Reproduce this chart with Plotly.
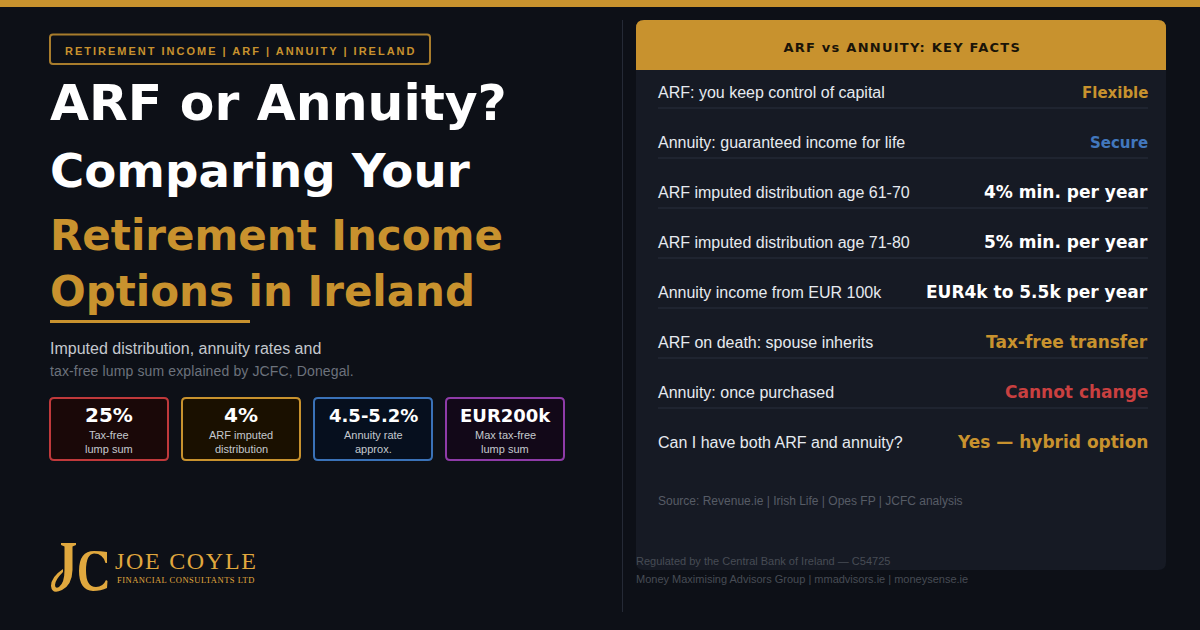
import json
import plotly.graph_objects as go

GOLD = "#c8922e"
SANS = "Liberation Sans"
BOLD = "DejaVu Sans"

tag_text = "RETIREMENT INCOME | ARF | ANNUITY | IRELAND"
headline_white = ["ARF or Annuity?", "Comparing Your"]
headline_gold = ["Retirement Income", "Options in Ireland"]
sub_lines = ["Imputed distribution, annuity rates and", "tax-free lump sum explained by JCFC, Donegal."]

stat_values = ["25%", "4%", "4.5-5.2%", "EUR200k"]
stat_labels = [["Tax-free", "lump sum"], ["ARF imputed", "distribution"], ["Annuity rate", "approx."], ["Max tax-free", "lump sum"]]
stat_edges = ["#c0393b", "#c8922e", "#3a72b8", "#8e3ba8"]
stat_fills = ["#1a0808", "#1a1000", "#060f1e", "#120818"]
stat_sizes = [20, 20, 18, 18]

panel_title = "ARF vs ANNUITY: KEY FACTS"
row_labels = ["ARF: you keep control of capital", "Annuity: guaranteed income for life",
              "ARF imputed distribution age 61-70", "ARF imputed distribution age 71-80",
              "Annuity income from EUR 100k", "ARF on death: spouse inherits",
              "Annuity: once purchased", "Can I have both ARF and annuity?"]
row_values = ["Flexible", "Secure", "4% min. per year", "5% min. per year",
              "EUR4k to 5.5k per year", "Tax-free transfer", "Cannot change", "Yes \u2014 hybrid option"]
row_colors = [GOLD, "#4277bd", "#ffffff", "#ffffff", "#ffffff", GOLD, "#c94040", GOLD]
row_sizes = [15, 15, 17, 17, 17, 17, 17, 17]

source_text = "Source: Revenue.ie | Irish Life | Opes FP | JCFC analysis"
footer_lines = ["Regulated by the Central Bank of Ireland \u2014 C54725",
                "Money Maximising Advisors Group | mmadvisors.ie | moneysense.ie"]


def rrect(x0, y0, x1, y1, r, r_bottom=None):
    b = r if r_bottom is None else r_bottom
    return (f"M{x0+r},{y0} L{x1-r},{y0} Q{x1},{y0} {x1},{y0+r} L{x1},{y1-b} Q{x1},{y1} {x1-b},{y1} "
            f"L{x0+b},{y1} Q{x0},{y1} {x0},{y1-b} L{x0},{y0+r} Q{x0},{y0} {x0+r},{y0} Z")


shapes = []
annos = []


def box(path, fill, line=None, width=0):
    shapes.append(dict(type="path", path=path, fillcolor=fill, line=dict(color=line or fill, width=width),
                       xref="x", yref="y", layer="below"))


def rect(x0, y0, x1, y1, fill):
    shapes.append(dict(type="rect", x0=x0, y0=y0, x1=x1, y1=y1, fillcolor=fill, line_width=0,
                       xref="x", yref="y", layer="below"))


def label(x, y, text, size, color, family=SANS, bold=False, anchor="left"):
    # annotations sit about 1px inside their box
    x = x + {"left": -1, "center": 0, "right": 1}[anchor]
    annos.append(dict(x=x, y=y, xref="x", yref="y", text=f"<b>{text}</b>" if bold else text,
                      showarrow=False, xanchor=anchor, yanchor="middle", align=anchor, borderpad=0,
                      font=dict(size=size, color=color, family=family)))


rect(0, 0, 1200, 7, GOLD)
rect(622, 20, 623, 612, "#252a36")

# left column
box(rrect(50, 34.5, 430, 64, 3), "rgba(0,0,0,0)", "#a87c2c", 2)
label(65, 51, tag_text, 11, GOLD, bold=True)

label(50, 102.5, headline_white[0], 50.4, "#ffffff", BOLD, True)
label(50, 170.5, headline_white[1], 46.7, "#ffffff", BOLD, True)
label(50, 235, headline_gold[0], 42, GOLD, BOLD, True)
label(50, 291, headline_gold[1], 42, GOLD, BOLD, True)
rect(50, 320, 250, 323, GOLD)

label(50, 348.5, sub_lines[0], 16, "#c4c8ce")
label(50, 371, sub_lines[1], 14, "#6c727c")

for i, val in enumerate(stat_values):
    x0 = 50 + 132 * i
    box(rrect(x0, 398, x0 + 118, 460, 4), stat_fills[i], stat_edges[i], 2)
    label(x0 + 59, 415, val, stat_sizes[i], "#ffffff", BOLD, True, "center")
    label(x0 + 59, 435, stat_labels[i][0], 11, "#c4c8ce", anchor="center")
    label(x0 + 59, 449, stat_labels[i][1], 11, "#c4c8ce", anchor="center")

# logo: the JC monogram is a drawn mark, the rest is text
LOGO = "#e0a83e"
box("M61,543 L76,543 L76,545 L72.5,546.5 L72.5,570 Q72,585 62,590 Q52,595 51,586 Q51,577 63,569 "
    "L63,572 Q55,580 55,585 Q55,589 59,587 Q64.5,583 64.5,570 L64.5,546.5 L61,545 Z", LOGO)
box("M107,552 L107,563 L105.5,563 Q103,553.5 94,553.5 Q86,554 86,570.5 Q86,587 96,587 Q103,587 106,580 "
    "L107.5,581 L107,588 Q101,591 93,591 Q79,590 79,571 Q79,551 94,551 Q101,551 107,552 Z", LOGO)
label(115, 561, "JOE COYLE", 24, LOGO, "Liberation Serif")
label(117, 580, "FINANCIAL CONSULTANTS LTD", 8.5, LOGO, "Liberation Serif")

# right panel
box(rrect(636, 20, 1166, 570, 8), "#161a24")
box(rrect(636, 20, 1166, 70, 8, 0), GOLD)
label(902, 47, panel_title, 13, "#1a1408", BOLD, True, "center")

for i, (lab, val) in enumerate(zip(row_labels, row_values)):
    y = 92 + 50 * i
    label(658, y, lab, 16, "#e6eaf0")
    label(1148, y + (0.7 if row_sizes[i] == 15 else 0), val, row_sizes[i], row_colors[i], BOLD, True, "right")
    if i < len(row_labels) - 1:
        rect(658, y + 15, 1148, y + 17, "#1f2430")

label(658, 501, source_text, 12, "#565c66")
label(636, 561, footer_lines[0], 11, "#474c55")
label(636, 579, footer_lines[1], 11, "#474c55")

fig = go.Figure()
fig.update_layout(width=1200, height=630, margin=dict(l=0, r=0, t=0, b=0),
                  paper_bgcolor="#0d1017", plot_bgcolor="#0d1017",
                  xaxis=dict(range=[0, 1200], visible=False, fixedrange=True),
                  yaxis=dict(range=[630, 0], visible=False, fixedrange=True),
                  shapes=shapes, annotations=annos, showlegend=False)

spacing = {tag_text: 2, panel_title: 1.25, "JOE COYLE": 1.7, "FINANCIAL CONSULTANTS LTD": 0.5, sub_lines[1]: 0.13}
post = ("document.body.style.margin='0';document.body.style.background='#0d1017';"
        "var sp=" + json.dumps(spacing) + ";"
        "document.querySelectorAll('.annotation-text').forEach(function(t){"
        "var s=sp[t.textContent];if(s){t.style.letterSpacing=s+'px';}});")
fig.write_html("out.html", post_script=post, config={"displayModeBar": False})
